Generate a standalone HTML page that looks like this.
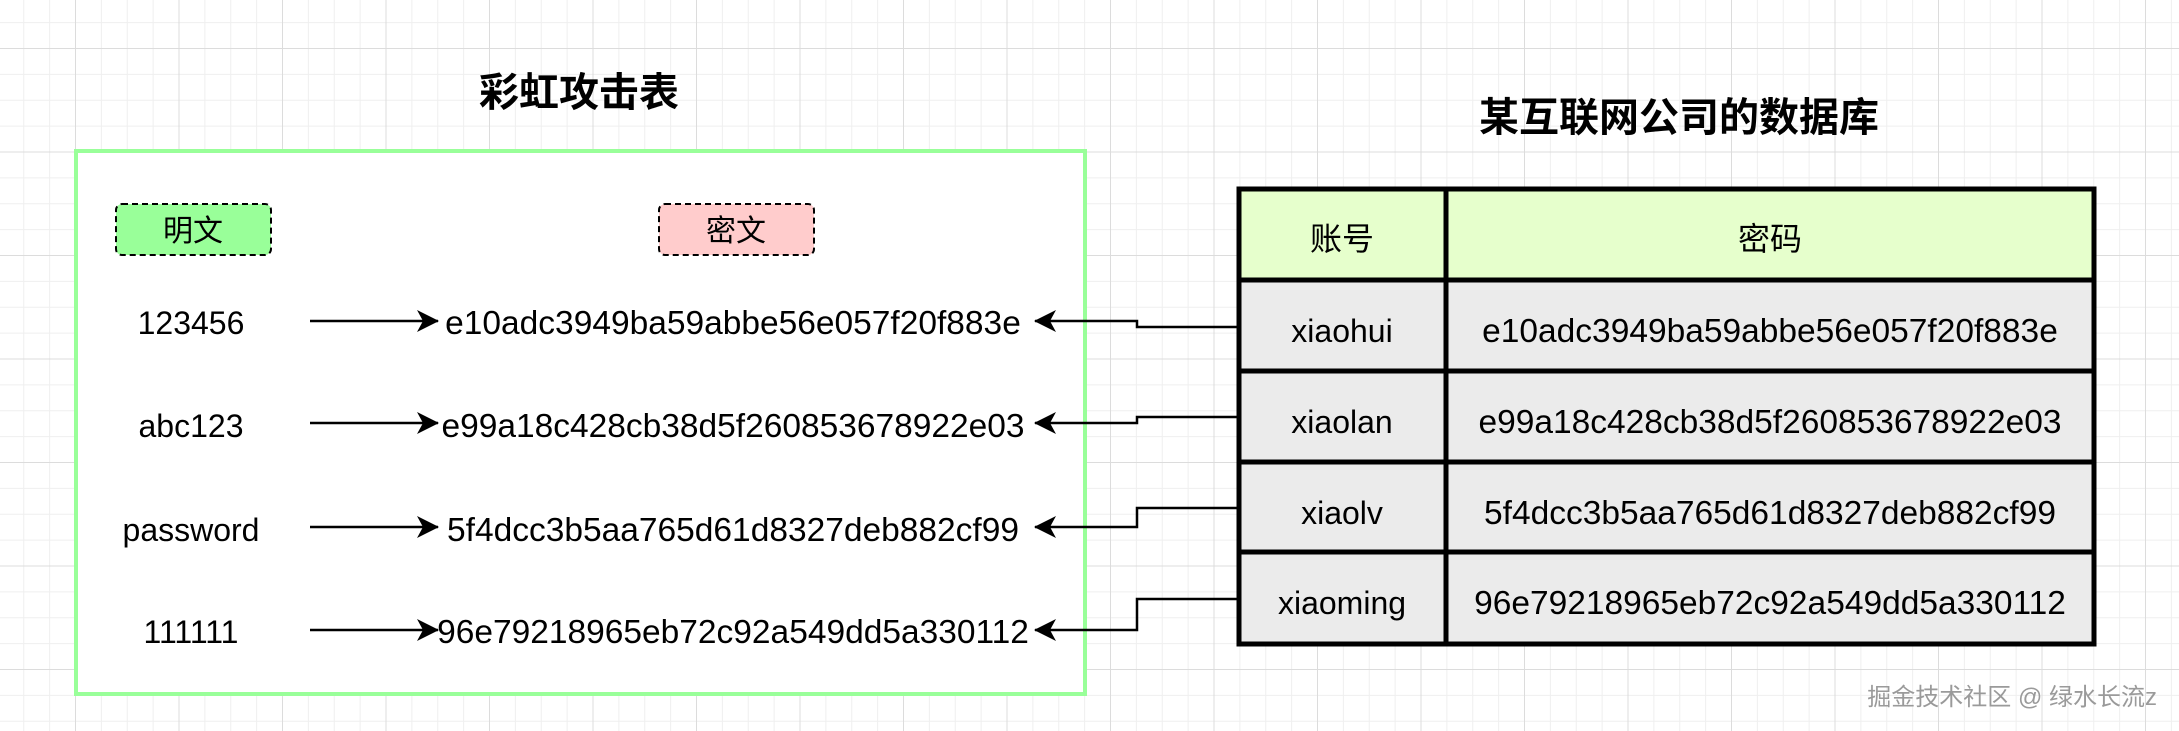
<!DOCTYPE html>
<html><head><meta charset="utf-8"><style>
html,body{margin:0;padding:0;}
body{width:2179px;height:731px;overflow:hidden;background:#fff;
background-image:
linear-gradient(to right,#dcdcdc 1px,transparent 1px),
linear-gradient(to bottom,#dcdcdc 1px,transparent 1px),
linear-gradient(to right,#efefef 1px,transparent 1px),
linear-gradient(to bottom,#efefef 1px,transparent 1px);
background-size:103.5px 103.5px,103.5px 103.5px,25.875px 25.875px,25.875px 25.875px;
background-position:75px 48px,75px 48px,75px 48px,75px 48px;}
svg text{font-family:"Liberation Sans","Noto Sans CJK SC",sans-serif;}
</style></head><body>
<svg width="2179" height="731" style="position:absolute;left:0;top:0">
<defs><marker id="a" markerWidth="22" markerHeight="22" refX="21" refY="11" orient="auto" markerUnits="userSpaceOnUse"><path d="M0,0 L22,11 L0,22 L6,11 Z" fill="#000"/></marker></defs>
<text x="579" y="106" font-size="40" font-weight="bold" text-anchor="middle">彩虹攻击表</text>
<text x="1679" y="131" font-size="40" font-weight="bold" text-anchor="middle">某互联网公司的数据库</text>
<rect x="76" y="151" width="1009" height="543" fill="#fff" stroke="#99ff99" stroke-width="4"/>
<rect x="116" y="204" width="155" height="51" rx="6" fill="#99ff99" stroke="#000" stroke-width="2" stroke-dasharray="6,4"/>
<text x="193" y="241" font-size="30" text-anchor="middle">明文</text>
<rect x="659" y="204" width="155" height="51" rx="6" fill="#ffcccc" stroke="#000" stroke-width="2" stroke-dasharray="6,4"/>
<text x="736" y="241" font-size="30" text-anchor="middle">密文</text>
<g font-size="32" text-anchor="middle">
<text x="191" y="334">123456</text><text x="191" y="437">abc123</text><text x="191" y="541">password</text><text x="191" y="643">111111</text>
<g font-size="33.5">
<text x="733" y="334">e10adc3949ba59abbe56e057f20f883e</text>
<text x="733" y="437">e99a18c428cb38d5f260853678922e03</text>
<text x="733" y="541">5f4dcc3b5aa765d61d8327deb882cf99</text>
<text x="733" y="643">96e79218965eb72c92a549dd5a330112</text>
</g></g>
<g stroke="#000" stroke-width="2.5" fill="none">
<line x1="310" y1="321" x2="438" y2="321" marker-end="url(#a)"/>
<line x1="310" y1="423" x2="438" y2="423" marker-end="url(#a)"/>
<line x1="310" y1="527" x2="438" y2="527" marker-end="url(#a)"/>
<line x1="310" y1="630" x2="438" y2="630" marker-end="url(#a)"/>
<polyline points="1238,327 1137,327 1137,321 1035,321" marker-end="url(#a)"/>
<polyline points="1238,417 1137,417 1137,423 1035,423" marker-end="url(#a)"/>
<polyline points="1238,508 1137,508 1137,527 1035,527" marker-end="url(#a)"/>
<polyline points="1238,599 1137,599 1137,630 1035,630" marker-end="url(#a)"/>
</g>
<rect x="1239" y="189" width="855" height="91" fill="#e6ffcc"/>
<rect x="1239" y="280" width="855" height="364" fill="#ebebeb"/>
<g stroke="#000" stroke-width="5" fill="none">
<rect x="1239" y="189" width="855" height="455"/>
<line x1="1446" y1="189" x2="1446" y2="644"/>
<line x1="1239" y1="280" x2="2094" y2="280"/>
<line x1="1239" y1="371" x2="2094" y2="371"/>
<line x1="1239" y1="462" x2="2094" y2="462"/>
<line x1="1239" y1="552" x2="2094" y2="552"/>
</g>
<g font-size="32" text-anchor="middle">
<text x="1342" y="250">账号</text><text x="1770" y="250">密码</text>
<text x="1342" y="342">xiaohui</text>
<text x="1342" y="433">xiaolan</text>
<text x="1342" y="524">xiaolv</text>
<text x="1342" y="614">xiaoming</text>
<g font-size="33.5">
<text x="1770" y="342">e10adc3949ba59abbe56e057f20f883e</text>
<text x="1770" y="433">e99a18c428cb38d5f260853678922e03</text>
<text x="1770" y="524">5f4dcc3b5aa765d61d8327deb882cf99</text>
<text x="1770" y="614">96e79218965eb72c92a549dd5a330112</text>
</g></g>
<text x="2157" y="705" font-size="24" fill="#9a9a9a" text-anchor="end">掘金技术社区 @ 绿水长流z</text>
</svg>
</body></html>
